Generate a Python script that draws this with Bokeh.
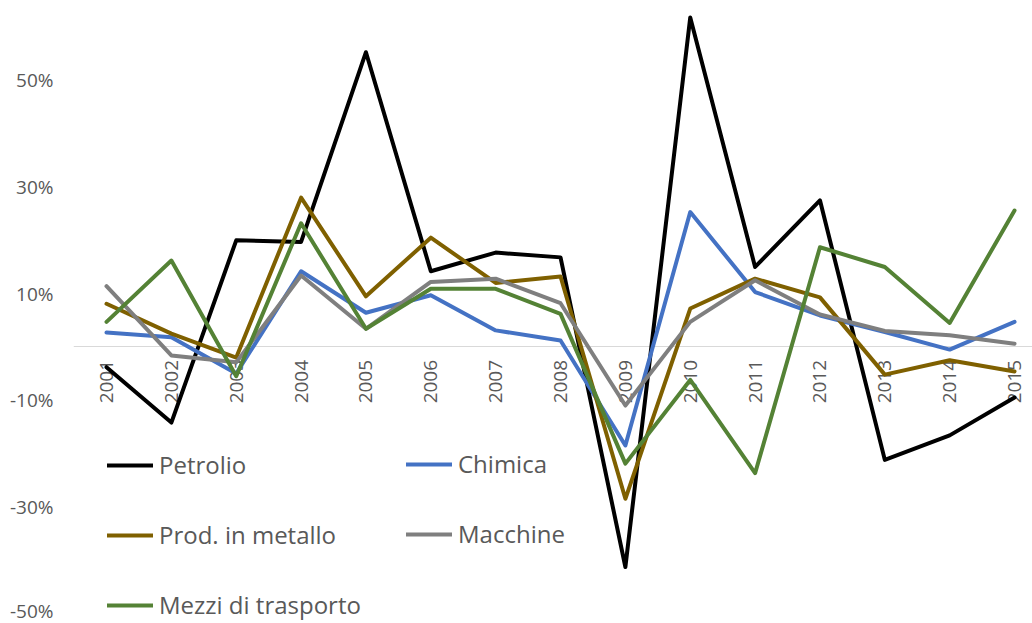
import math
from bokeh.plotting import figure
from bokeh.models import (Range1d, FixedTicker, PrintfTickFormatter, Legend, LegendItem)
from bokeh.embed import file_html
from bokeh.resources import INLINE

years = ["2001", "2002", "2003", "2004", "2005", "2006", "2007", "2008",
         "2009", "2010", "2011", "2012", "2013", "2014", "2015"]
petrolio = [-3.8, -14.2, 20.0, 19.7, 55.3, 14.2, 17.7, 16.8, -41.3, 61.8, 15.0, 27.5, -21.2, -16.6, -9.5]
chimica = [2.7, 1.8, -5.0, 14.2, 6.4, 9.7, 3.1, 1.2, -18.5, 25.3, 10.3, 5.9, 2.8, -0.5, 4.7]
prod_metallo = [8.1, 2.5, -2.0, 28.0, 9.5, 20.5, 12.0, 13.2, -28.5, 7.2, 12.8, 9.3, -5.2, -2.5, -4.6]
macchine = [11.4, -1.6, -2.9, 13.4, 3.4, 12.2, 12.8, 8.2, -11.0, 4.7, 12.5, 6.1, 3.0, 2.2, 0.6]
mezzi = [4.7, 16.2, -5.5, 23.2, 3.4, 10.9, 10.9, 6.2, -21.9, -6.2, -23.7, 18.7, 15.0, 4.5, 25.6]

series_names = ["Petrolio", "Chimica", "Prod. in metallo", "Macchine", "Mezzi di trasporto"]
series_values = [petrolio, chimica, prod_metallo, macchine, mezzi]
series_colors = ["#000000", "#4472C4", "#7F6000", "#7F7F7F", "#548235"]
y_ticks = [-50, -30, -10, 10, 30, 50]

xs = list(range(len(years)))

p = figure(width=1032, height=623, output_backend="svg", toolbar_location=None,
           x_range=Range1d(-0.509, 14.277), y_range=Range1d(-51.9, 65.0),
           min_border_left=73, min_border_right=0, min_border_top=0, min_border_bottom=0)
p.outline_line_color = None
p.background_fill_color = "white"
p.xgrid.visible = False
p.ygrid.visible = False

# y axis
p.yaxis.ticker = FixedTicker(ticks=y_ticks)
p.yaxis.formatter = PrintfTickFormatter(format="%d%%")
p.yaxis.axis_line_color = None
p.yaxis.major_tick_line_color = None
p.yaxis.minor_tick_line_color = None
p.yaxis.major_tick_out = 0
p.yaxis.major_tick_in = 0
p.yaxis.major_label_standoff = 20
p.yaxis.major_label_text_font = "Open Sans"
p.yaxis.major_label_text_font_size = "19px"
p.yaxis.major_label_text_color = "#595959"

# x axis drawn along the zero line
p.xaxis.fixed_location = 0
p.xaxis.ticker = FixedTicker(ticks=xs)
p.xaxis.major_label_overrides = {i: y for i, y in zip(xs, years)}
p.xaxis.axis_line_color = "#D9D9D9"
p.xaxis.axis_line_width = 1
p.xaxis.major_tick_line_color = None
p.xaxis.minor_tick_line_color = None
p.xaxis.major_tick_out = 0
p.xaxis.major_tick_in = 0
p.xaxis.major_label_orientation = math.pi / 2
p.xaxis.major_label_standoff = 13
p.xaxis.major_label_text_font = "Open Sans"
p.xaxis.major_label_text_font_size = "19px"
p.xaxis.major_label_text_color = "#595959"
p.xaxis.level = "underlay"

renderers = []
for name, vals, col in zip(series_names, series_values, series_colors):
    r = p.line(xs, vals, line_color=col, line_width=4, line_join="round", line_cap="round")
    renderers.append(r)

common = dict(orientation="vertical", spacing=37, padding=0, margin=0,
              border_line_color=None, background_fill_alpha=0,
              glyph_width=46, glyph_height=20, label_standoff=6,
              label_text_font="Open Sans", label_text_font_size="24px",
              label_text_color="#595959")
leg1 = Legend(items=[LegendItem(label=series_names[0], renderers=[renderers[0]]),
                     LegendItem(label=series_names[2], renderers=[renderers[2]]),
                     LegendItem(label=series_names[4], renderers=[renderers[4]])],
              location=(34, 2), **common)
leg2 = Legend(items=[LegendItem(label=series_names[1], renderers=[renderers[1]]),
                     LegendItem(label=series_names[3], renderers=[renderers[3]])],
              location=(333, 73), **common)
p.add_layout(leg1)
p.add_layout(leg2)

open("out.html", "w").write(file_html(p, INLINE))
